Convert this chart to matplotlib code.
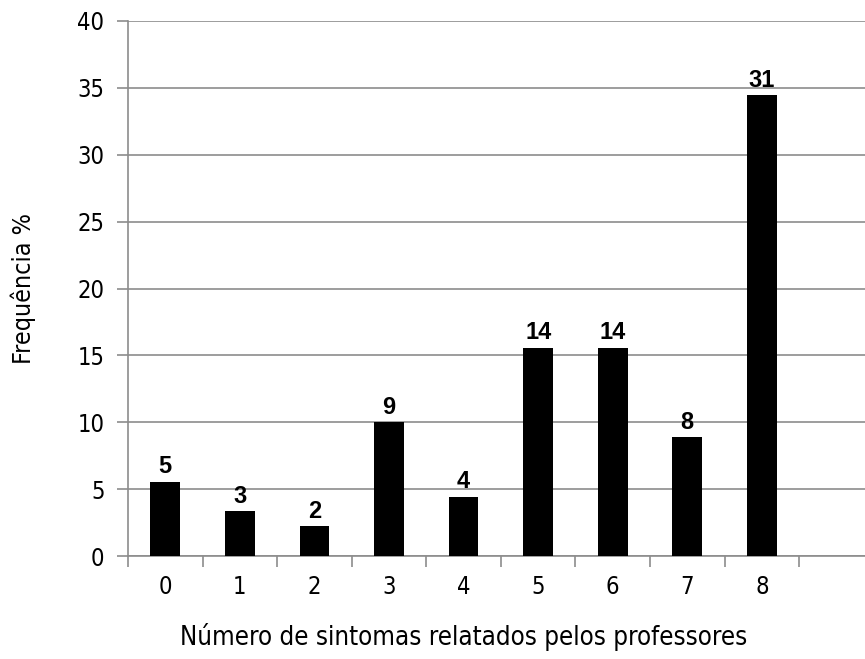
import matplotlib
matplotlib.use("Agg")
import matplotlib.pyplot as plt

# dados
categorias = ["0", "1", "2", "3", "4", "5", "6", "7", "8"]
frequencia = [5.56, 3.33, 2.22, 10.0, 4.44, 15.56, 15.56, 8.89, 34.44]
rotulos = [5, 3, 2, 9, 4, 14, 14, 8, 31]

plt.rcParams['font.family'] = ['DejaVu Sans']
plt.rcParams['font.stretch'] = 'condensed'

cinza = "#8c8c8c"

fig = plt.figure(figsize=(8.65, 6.59), dpi=100)
ax = fig.add_axes([128 / 865, 103 / 659, 742 / 865, 535 / 659])

x = list(range(len(categorias)))
ax.bar(x, frequencia, width=0.4, color="black", zorder=3)

# rotulos com a contagem acima de cada barra
for xi, h, r in zip(x, frequencia, rotulos):
    ax.annotate(str(r), (xi, h), xytext=(0, 2.5), textcoords="offset points",
                ha="center", va="bottom", fontsize=17, fontweight="bold",
                family=["Liberation Sans", "DejaVu Sans"], fontstretch="normal",
                zorder=4)

ax.set_xlim(-0.5, 9.45)
ax.set_ylim(0, 40)
ax.set_yticks(range(0, 41, 5))
ax.yaxis.grid(True, color=cinza, linewidth=1.2, zorder=0)

ax.set_xticks(x)
ax.set_xticklabels(categorias)
ax.set_xticks([i - 0.5 for i in range(10)], minor=True)
ax.tick_params(axis="x", which="major", length=0, pad=14, labelsize=17)
ax.tick_params(axis="x", which="minor", length=8, width=1.2, color=cinza)
ax.tick_params(axis="y", length=8, width=1.2, color=cinza, pad=9, labelsize=17)

for lado in ["top", "right"]:
    ax.spines[lado].set_visible(False)
for lado in ["left", "bottom"]:
    ax.spines[lado].set_color(cinza)
    ax.spines[lado].set_linewidth(1.2)

ax.set_xlabel("Número de sintomas relatados pelos professores", fontsize=18.5)
ax.xaxis.set_label_coords(4.5 / 9.95, -0.125)
ax.set_ylabel("Frequência %", fontsize=18)
ax.yaxis.set_label_coords(-0.124, 0.5)

fig.savefig("out.png", dpi=100)
